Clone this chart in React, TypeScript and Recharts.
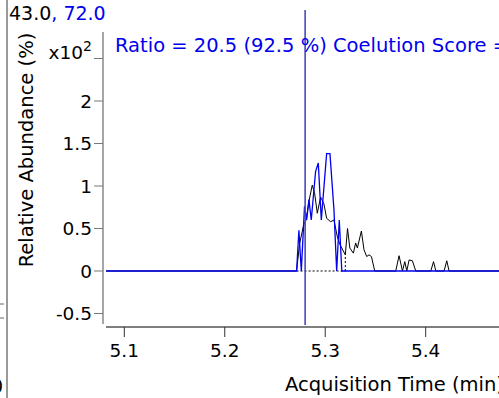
import React from 'react';
import { LineChart, Line, XAxis, YAxis, ReferenceLine } from 'recharts';

// qualifier trace (43.0) - black
const blackTime = [
  5.0818, 5.2715, 5.2745, 5.2785, 5.281, 5.2838, 5.2871, 5.2894, 5.2921, 5.2954,
  5.2987, 5.3014, 5.3054, 5.3087, 5.3121, 5.3147, 5.32, 5.3222, 5.3245, 5.328,
  5.3303, 5.332, 5.336, 5.3386, 5.3413, 5.3436, 5.346, 5.3493, 5.3702, 5.3735,
  5.3769, 5.3792, 5.3812, 5.3835, 5.3868, 5.3901, 5.4051, 5.4078, 5.4101, 5.4183,
  5.421, 5.4233, 5.48,
];
const blackAbund = [
  0, 0, 0.32, 0.54, 0.6, 0.82, 1.01, 0.92, 0.68, 0.87,
  0.79, 0.62, 0.58, 0.6, 0.4, 0.31, 0.19, 0.5, 0.27, 0.21,
  0.33, 0.27, 0.47, 0.25, 0.17, 0.19, 0.17, 0, 0, 0.18,
  0, 0.11, 0, 0.13, 0.12, 0, 0, 0.11, 0, 0,
  0.12, 0, 0,
];

// target trace (72.0) - blue
const blueTime = [
  5.0818, 5.2715, 5.2738, 5.2762, 5.2794, 5.2815, 5.2838, 5.2861, 5.2904, 5.2931,
  5.2961, 5.3014, 5.3047, 5.3087, 5.3114, 5.314, 5.3165, 5.48,
];
const blueAbund = [
  0, 0, 0.48, 0, 0.76, 0.6, 0.84, 0.6, 1.17, 1.27,
  0.6, 1.38, 1.38, 0.72, 0, 0.6, 0, 0,
];

const xTicks = [5.1, 5.2, 5.3, 5.4];
const yTicks = [-0.5, 0, 0.5, 1, 1.5, 2, 2.5];

const markerTime = 5.28;
const integStart = 5.2715;
const integEnd = 5.32;
const integEndLevel = 0.19;

const X_DOMAIN: [number, number] = [5.0788, 5.5337];
const Y_DOMAIN: [number, number] = [-0.659, 2.8118];
const X_AXIS_START = 5.0818;
const Y_AXIS_END = -0.624;

const FONT = '"DejaVu Sans", Verdana, sans-serif';
const BLUE = '#0000ee';

const blackData = blackTime.map((t, i) => ({ t, v: blackAbund[i] }));
const blueData = blueTime.map((t, i) => ({ t, v: blueAbund[i] }));

const YTick = ({ x, y, payload }: any) => {
  if (payload.value === 2.5) {
    return (
      <text x={x} y={y} textAnchor="end" fontSize={18.5} fill="#000" fontFamily={FONT}>
        x10
        <tspan dy={-8} fontSize={14}>
          2
        </tspan>
      </text>
    );
  }
  return (
    <text x={x} y={y} dy="0.36em" textAnchor="end" fontSize={18.5} fill="#000" fontFamily={FONT}>
      {payload.value}
    </text>
  );
};

export default function App() {
  return (
    <div
      style={{
        position: 'absolute',
        left: 0,
        top: 0,
        width: 499,
        height: 398,
        overflow: 'hidden',
        background: '#fff',
      }}
    >
      <LineChart width={560} height={398} margin={{ top: 32, right: 0, left: 0, bottom: 0 }}>
        <XAxis
          type="number"
          dataKey="t"
          domain={X_DOMAIN}
          allowDataOverflow
          ticks={xTicks}
          tickFormatter={(v: number) => v.toFixed(1)}
          tickSize={10}
          tickMargin={7}
          height={71}
          axisLine={false}
          tickLine={{ stroke: '#333' }}
          tick={{ fontSize: 18.5, fill: '#000', fontFamily: FONT }}
        />
        <YAxis
          type="number"
          domain={Y_DOMAIN}
          allowDataOverflow
          ticks={yTicks}
          width={103}
          tickSize={9}
          tickMargin={2}
          axisLine={false}
          tickLine={{ stroke: '#777' }}
          tick={<YTick />}
        />
        {/* offset axis lines */}
        <ReferenceLine
          ifOverflow="visible"
          stroke="#888"
          strokeWidth={1.5}
          segment={[
            { x: X_DOMAIN[0], y: Y_DOMAIN[1] },
            { x: X_DOMAIN[0], y: Y_AXIS_END },
          ]}
        />
        <ReferenceLine
          ifOverflow="visible"
          stroke="#555"
          strokeWidth={1.5}
          segment={[
            { x: X_AXIS_START, y: Y_DOMAIN[0] },
            { x: X_DOMAIN[1], y: Y_DOMAIN[0] },
          ]}
        />
        {/* integration baseline */}
        <ReferenceLine
          ifOverflow="visible"
          stroke="#000"
          strokeDasharray="2 2"
          segment={[
            { x: integStart, y: 0 },
            { x: integEnd, y: 0 },
          ]}
        />
        <ReferenceLine
          ifOverflow="visible"
          stroke="#000"
          strokeDasharray="2 2"
          segment={[
            { x: integEnd, y: 0 },
            { x: integEnd, y: integEndLevel },
          ]}
        />
        <Line
          data={blackData}
          dataKey="v"
          type="linear"
          stroke="#000"
          strokeWidth={1}
          dot={false}
          isAnimationActive={false}
        />
        <Line
          data={blueData}
          dataKey="v"
          type="linear"
          stroke={BLUE}
          strokeWidth={1.3}
          dot={false}
          isAnimationActive={false}
        />
        {/* retention time marker */}
        <ReferenceLine
          ifOverflow="visible"
          stroke="#4a4ab8"
          strokeWidth={1.6}
          segment={[
            { x: markerTime, y: 3.07 },
            { x: markerTime, y: -0.635 },
          ]}
        />
      </LineChart>
      <svg
        width={499}
        height={398}
        style={{ position: 'absolute', left: 0, top: 0, pointerEvents: 'none' }}
        fontFamily={FONT}
      >
        <line x1={7} y1={0} x2={7} y2={398} stroke="#999" strokeWidth={2} />
        <line x1={0} y1={304} x2={4} y2={304} stroke="#666" />
        <line x1={0} y1={318} x2={4} y2={318} stroke="#666" />
        <text x={-9} y={393} fontSize={19} fill="#000">
          0
        </text>
        <text x={9} y={20} fontSize={19} fill="#000">
          43.0
          <tspan fill={BLUE}>, 72.0</tspan>
        </text>
        <text x={115} y={52} fontSize={19.5} fill={BLUE}>
          Ratio = 20.5 (92.5 %) Coelution Score =
        </text>
        <text
          x={33}
          y={150}
          fontSize={19.5}
          fill="#000"
          textAnchor="middle"
          transform="rotate(-90, 33, 150)"
        >
          Relative Abundance (%)
        </text>
        <text x={285} y={391} fontSize={19.5} fill="#000">
          Acquisition Time (min)
        </text>
      </svg>
    </div>
  );
}
